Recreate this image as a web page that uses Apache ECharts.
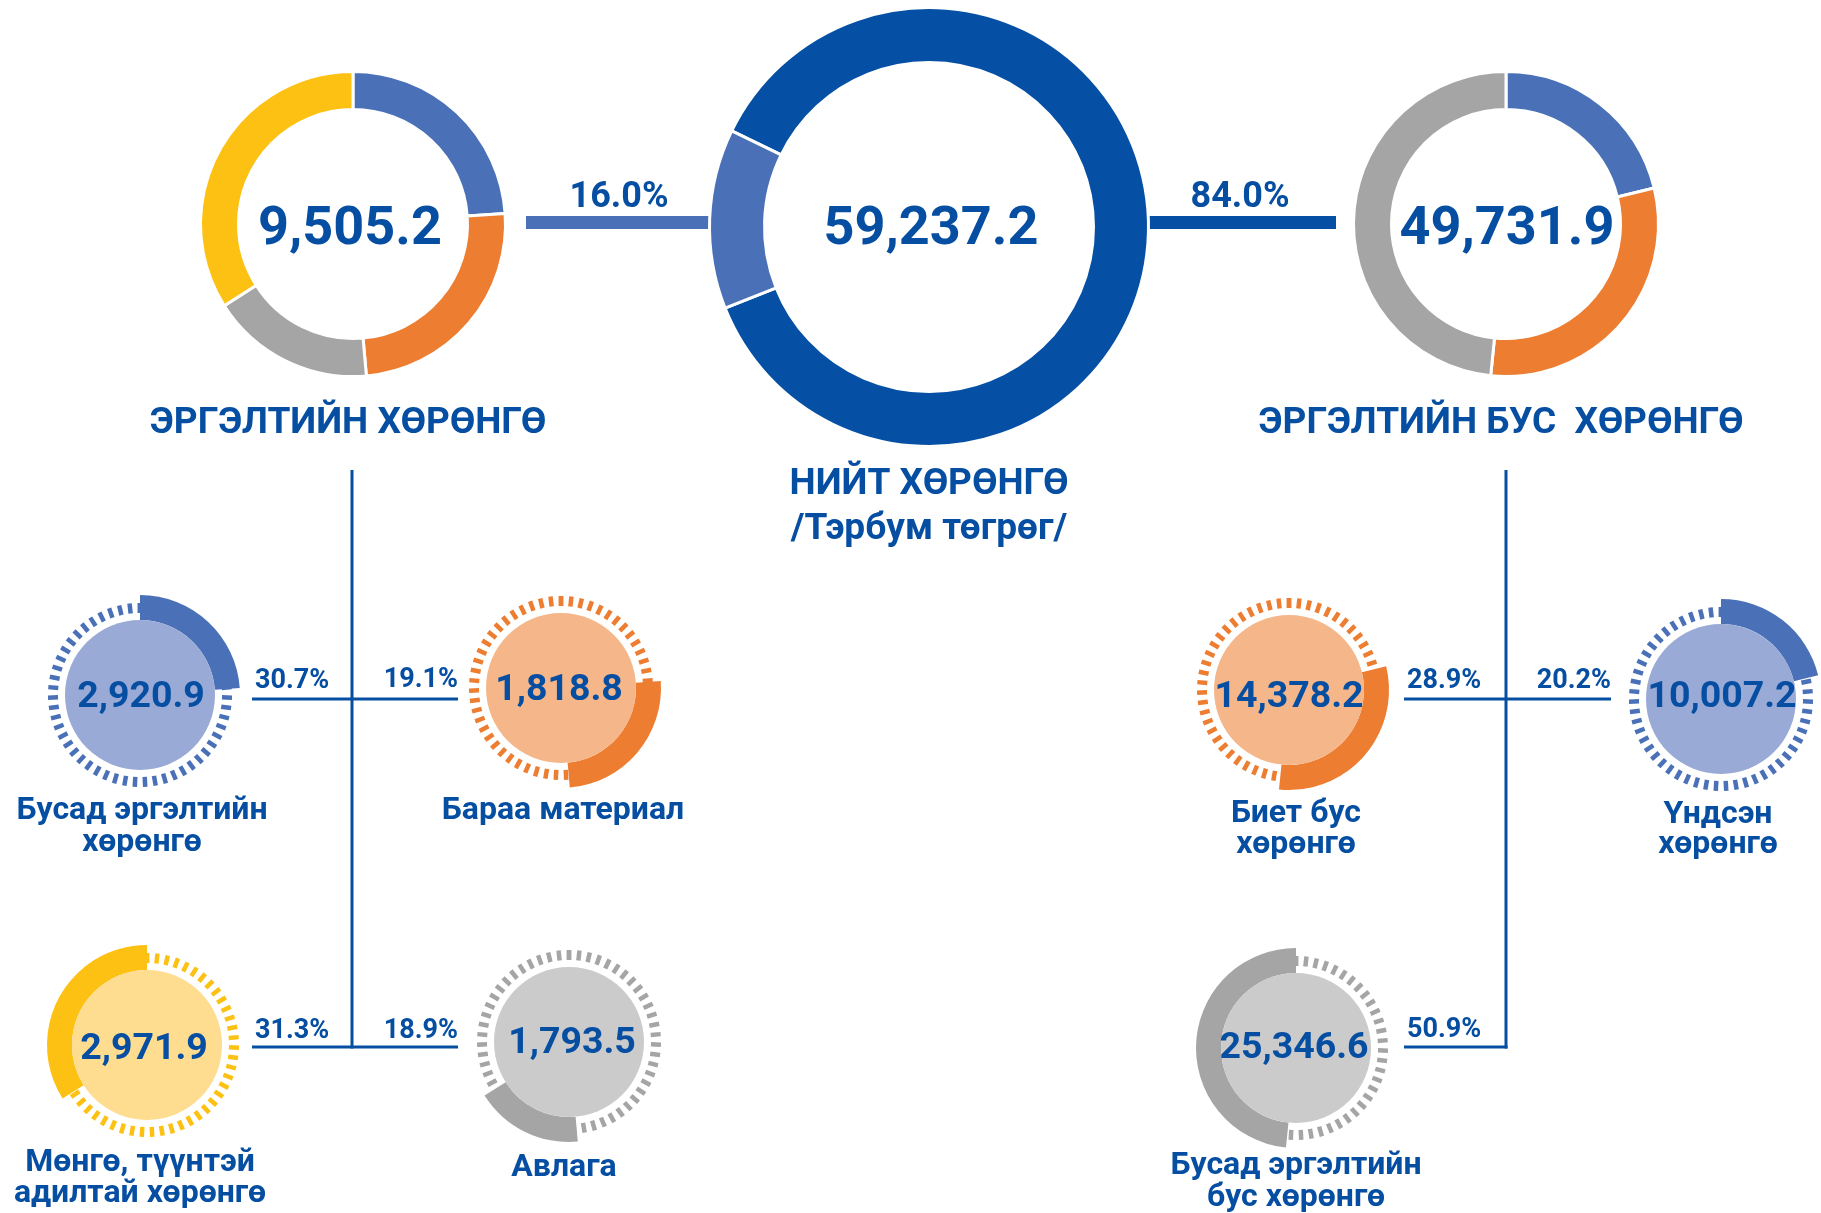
<!DOCTYPE html>
<html>
<head>
<meta charset="utf-8">
<title>Нийт хөрөнгө</title>
<script src="https://cdn.jsdelivr.net/npm/echarts@6/dist/echarts.min.js"></script>
<style>
  html, body { margin: 0; padding: 0; background: #fff; }
  #chart { width: 1821px; height: 1213px; }
</style>
</head>
<body>
<div id="chart"></div>
<script>
// дүн, тэрбум төгрөг
var totalAssets = 59237.2;
var currentTotal = 9505.2;
var nonCurrentTotal = 49731.9;
var totalPct = ["16.0%", "84.0%"];
// нийт цагираг дээр зурсан хувь: эргэлтийн бус, эргэлтийн
var totalRing = [86.75, 13.25];

// эргэлтийн хөрөнгө (цагираг дээр цагийн зүүний дагуу)
var currentNames = ["Бусад эргэлтийн\nхөрөнгө", "Бараа материал", "Авлага", "Мөнгө, түүнтэй\nадилтай хөрөнгө"];
var currentValues = [2920.9, 1818.8, 1793.5, 2971.9];
var currentPct = ["30.7%", "19.1%", "18.9%", "31.3%"];
var currentRing = [23.9, 24.7, 17.4, 34.0];

// эргэлтийн бус хөрөнгө
var nonCurrentNames = ["Үндсэн\nхөрөнгө", "Биет бус\nхөрөнгө", "Бусад эргэлтийн\nбус хөрөнгө"];
var nonCurrentValues = [10007.2, 14378.2, 25346.6];
var nonCurrentPct = ["20.2%", "28.9%", "50.9%"];
var nonCurrentRing = [21.2, 30.4, 48.4];

var TEXT = "#054ea2";
var DARK = "#0550a4";
var mainColors = { blue: "#4a71b7", orange: "#ed7d31", gray: "#a5a5a5", yellow: "#fdc113" };
var lightColors = { blue: "#9aaad7", orange: "#f5b78a", gray: "#cbcbcb", yellow: "#fedc90" };
var currentKeys = ["blue", "orange", "gray", "yellow"];
var nonCurrentKeys = ["blue", "orange", "gray"];

// layout
var currentPos = [[140, 695], [561, 688], [569, 1042], [147, 1045]];
var currentNumPos = [[141, 698], [559, 691], [572, 1044], [144, 1050]];
var currentNamePos = [[142, 827, 32], [563, 811, 32], [564, 1168, 32], [140, 1178, 31]];
var currentPctPos = [[255, 681, "left"], [458, 680, "right"], [458, 1031, "right"], [255, 1031, "left"]];
var nonCurrentPos = [[1721, 699], [1289, 690], [1296, 1048]];
var nonCurrentNumPos = [[1722, 698], [1289, 698], [1294, 1049]];
var nonCurrentNamePos = [[1718, 830, 30], [1296, 829, 31], [1296, 1182, 32]];
var nonCurrentPctPos = [[1611, 681, "right"], [1407, 681, "left"], [1407, 1030, "left"]];

var FONT = "Roboto, 'Noto Sans', sans-serif";

function fmt(v) {
  return v.toLocaleString("en-US", { minimumFractionDigits: 1, maximumFractionDigits: 1 });
}

function text(x, y, str, size, align, lh) {
  return {
    type: "text", x: x, y: y, silent: true, z: 20,
    style: {
      text: str, fill: TEXT,
      font: "bold " + size + "px " + FONT,
      align: align || "center", textAlign: align || "center",
      verticalAlign: "middle", textVerticalAlign: "middle",
      lineHeight: lh || size
    }
  };
}

function ring(center, radius, shares, colors, startAngle) {
  return {
    type: "pie", center: center, radius: radius, startAngle: startAngle,
    clockwise: true, silent: true, animation: false,
    label: { show: false }, labelLine: { show: false },
    itemStyle: { borderColor: "#fff", borderWidth: 3 },
    data: shares.map(function (v, i) {
      return { value: v, itemStyle: { color: colors[i] } };
    })
  };
}

function smallCircle(center, value, shares, idx, key) {
  var before = 0;
  for (var i = 0; i < idx; i++) before += shares[i];
  var share = shares[idx];
  var none = "rgba(0,0,0,0)";
  var c = mainColors[key];
  return [
    // dashed ring
    {
      type: "gauge", center: center, radius: 92, startAngle: 90, endAngle: -270,
      min: 0, max: 100, splitNumber: 55, silent: true, animation: false, z: 2,
      axisLine: { show: false, lineStyle: { width: 0 } },
      progress: { show: false }, pointer: { show: false },
      anchor: { show: false }, title: { show: false }, detail: { show: false },
      axisLabel: { show: false }, axisTick: { show: false },
      splitLine: { show: true, length: 10, distance: 0, lineStyle: { color: c, width: 4.5 } },
      data: [{ value: 0 }]
    },
    // share arc, same place as in the big ring
    {
      type: "pie", center: center, radius: [75, 100], startAngle: 90, clockwise: true,
      silent: true, animation: false, z: 3,
      label: { show: false }, labelLine: { show: false },
      data: [
        { value: before, itemStyle: { color: none } },
        { value: share, itemStyle: { color: c } },
        { value: 100 - before - share, itemStyle: { color: none } }
      ]
    },
    // filled disc
    {
      type: "pie", center: center, radius: [0, 75], silent: true, animation: false, z: 4,
      label: { show: false }, labelLine: { show: false },
      data: [{ value: value, itemStyle: { color: lightColors[key] } }]
    }
  ];
}

var series = [];
series.push(ring([353, 224], [114.5, 152.5], currentRing, currentKeys.map(function (k) { return mainColors[k]; }), 90));
series.push(ring([1506, 224], [114.5, 152.5], nonCurrentRing, nonCurrentKeys.map(function (k) { return mainColors[k]; }), 90));
series.push(ring([929, 227], [164.5, 219.5], totalRing, [DARK, mainColors.blue], 90 - 296));

currentValues.forEach(function (v, i) {
  series = series.concat(smallCircle(currentPos[i], v, currentRing, i, currentKeys[i]));
});
nonCurrentValues.forEach(function (v, i) {
  series = series.concat(smallCircle(nonCurrentPos[i], v, nonCurrentRing, i, nonCurrentKeys[i]));
});

function line(x1, y1, x2, y2, w, color) {
  return {
    type: "line", silent: true, z: 1,
    shape: { x1: x1, y1: y1, x2: x2, y2: y2 },
    style: { stroke: color || TEXT, lineWidth: w || 3 }
  };
}

var graphics = [
  // top connectors
  line(526, 222.5, 714, 222.5, 13, mainColors.blue),
  line(1144, 222.5, 1336, 222.5, 13, DARK),
  text(619, 197.5, totalPct[0], 36),
  text(1240, 197.5, totalPct[1], 36),
  // big numbers
  text(350, 230, fmt(currentTotal), 54),
  text(931, 230, fmt(totalAssets), 54),
  text(1507, 230, fmt(nonCurrentTotal), 54),
  // titles
  text(348, 424, "ЭРГЭЛТИЙН ХӨРӨНГӨ", 37),
  text(1501, 424, "ЭРГЭЛТИЙН БУС  ХӨРӨНГӨ", 37),
  text(929, 485, "НИЙТ ХӨРӨНГӨ", 37),
  text(929, 530, "/Тэрбум төгрөг/", 37),
  // tree connectors
  line(352, 470, 352, 1048.5),
  line(252, 699, 458, 699),
  line(252, 1047, 458, 1047),
  line(1506, 470, 1506, 1048.5),
  line(1404, 699, 1611, 699),
  line(1404, 1047, 1507.5, 1047)
];

function pctText(p, str) {
  return text(p[0], p[1], str, 27, p[2]);
}

currentNames.forEach(function (n, i) {
  var p = currentNamePos[i];
  graphics.push(text(currentNumPos[i][0], currentNumPos[i][1], fmt(currentValues[i]), 37.5));
  graphics.push(text(p[0], p[1], n, 32, "center", p[2]));
  graphics.push(pctText(currentPctPos[i], currentPct[i]));
});
nonCurrentNames.forEach(function (n, i) {
  var p = nonCurrentNamePos[i];
  graphics.push(text(nonCurrentNumPos[i][0], nonCurrentNumPos[i][1], fmt(nonCurrentValues[i]), 37.5));
  graphics.push(text(p[0], p[1], n, 32, "center", p[2]));
  graphics.push(pctText(nonCurrentPctPos[i], nonCurrentPct[i]));
});

var chart = echarts.init(document.getElementById("chart"));
chart.setOption({
  backgroundColor: "#fff",
  animation: false,
  series: series,
  graphic: { elements: graphics }
});
</script>
</body>
</html>
